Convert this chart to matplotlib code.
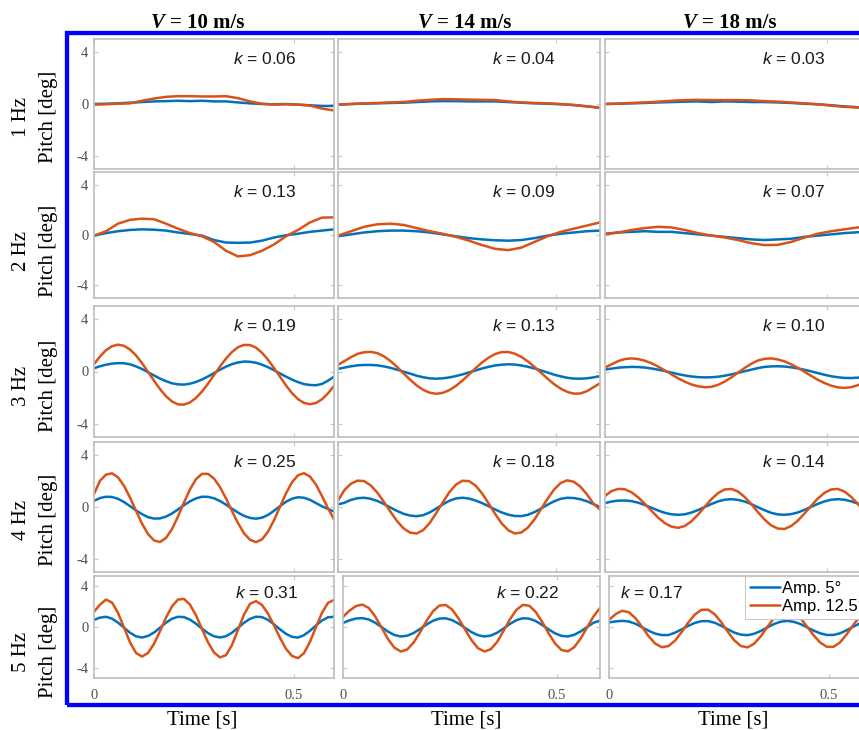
import matplotlib
matplotlib.use('Agg')
import matplotlib.pyplot as plt
from matplotlib.patches import Rectangle

plt.rcParams['axes.unicode_minus'] = False
plt.rcParams['mathtext.fontset'] = 'custom'
plt.rcParams['mathtext.it'] = 'Liberation Sans:italic'
plt.rcParams['mathtext.rm'] = 'Liberation Sans'

# ---------------- data ----------------
speeds = ["10", "14", "18"]
freqs = ["1", "2", "3", "4", "5"]
k_labels = [["0.06", "0.04", "0.03"],
            ["0.13", "0.09", "0.07"],
            ["0.19", "0.13", "0.10"],
            ["0.25", "0.18", "0.14"],
            ["0.31", "0.22", "0.17"]]
legend_labels = ["Amp. 5\u00b0", "Amp. 12.5\u00b0"]

t_slow = [0.00, 0.03, 0.06, 0.09, 0.12, 0.15, 0.18, 0.21, 0.24, 0.27, 0.30,
          0.33, 0.36, 0.39, 0.42, 0.45, 0.48, 0.51, 0.54, 0.57, 0.60]
t_fast = [0.000, 0.015, 0.030, 0.045, 0.060, 0.075, 0.090, 0.105, 0.120, 0.135,
          0.150, 0.165, 0.180, 0.195, 0.210, 0.225, 0.240, 0.255, 0.270, 0.285,
          0.300, 0.315, 0.330, 0.345, 0.360, 0.375, 0.390, 0.405, 0.420, 0.435,
          0.450, 0.465, 0.480, 0.495, 0.510, 0.525, 0.540, 0.555, 0.570, 0.585, 0.600]

# Row 1 (1 Hz)
r1c1_b = [0.00, 0.02, 0.05, 0.10, 0.15, 0.20, 0.22, 0.25, 0.22, 0.25, 0.20, 0.20, 0.12, 0.05, 0.00, -0.02, 0.00, -0.05, -0.10, -0.15, -0.15]
r1c1_o = [-0.05, -0.02, 0.02, 0.05, 0.25, 0.42, 0.55, 0.60, 0.60, 0.58, 0.58, 0.60, 0.45, 0.20, 0.02, -0.05, -0.02, -0.05, -0.12, -0.35, -0.50]
r1c2_b = [-0.05, 0.00, 0.03, 0.05, 0.08, 0.10, 0.15, 0.20, 0.22, 0.22, 0.20, 0.20, 0.20, 0.15, 0.10, 0.05, 0.02, -0.02, -0.08, -0.18, -0.28]
r1c2_o = [-0.05, 0.00, 0.05, 0.08, 0.12, 0.15, 0.25, 0.32, 0.38, 0.36, 0.34, 0.32, 0.30, 0.20, 0.12, 0.08, 0.05, 0.00, -0.08, -0.18, -0.30]
r1c3_b = [0.00, 0.02, 0.05, 0.08, 0.12, 0.15, 0.18, 0.20, 0.15, 0.20, 0.18, 0.15, 0.15, 0.12, 0.08, 0.02, -0.02, -0.10, -0.18, -0.25, -0.30]
r1c3_o = [0.00, 0.03, 0.08, 0.12, 0.18, 0.25, 0.30, 0.32, 0.30, 0.30, 0.30, 0.28, 0.22, 0.18, 0.12, 0.05, -0.02, -0.12, -0.22, -0.27, -0.30]

# Row 2 (2 Hz)
r2c1_b = [-0.05, 0.15, 0.30, 0.40, 0.45, 0.42, 0.35, 0.20, 0.08, -0.05, -0.40, -0.60, -0.62, -0.60, -0.45, -0.20, -0.02, 0.10, 0.25, 0.35, 0.45]
r2c1_o = [-0.05, 0.30, 0.90, 1.20, 1.30, 1.25, 0.90, 0.50, 0.15, -0.10, -0.55, -1.25, -1.70, -1.60, -1.25, -0.75, -0.10, 0.40, 1.00, 1.38, 1.40]
r2c2_b = [-0.10, 0.05, 0.20, 0.30, 0.35, 0.35, 0.30, 0.20, 0.05, -0.10, -0.25, -0.35, -0.42, -0.45, -0.40, -0.25, -0.05, 0.10, 0.20, 0.30, 0.35]
r2c2_o = [-0.05, 0.30, 0.65, 0.85, 0.90, 0.80, 0.55, 0.30, 0.10, -0.15, -0.45, -0.80, -1.10, -1.20, -1.00, -0.55, -0.10, 0.25, 0.50, 0.75, 1.00]
r2c3_b = [0.10, 0.20, 0.25, 0.30, 0.25, 0.25, 0.15, 0.05, -0.05, -0.15, -0.25, -0.35, -0.40, -0.35, -0.30, -0.15, -0.05, 0.05, 0.15, 0.22, 0.25]
r2c3_o = [0.05, 0.20, 0.40, 0.55, 0.65, 0.60, 0.40, 0.15, -0.05, -0.20, -0.40, -0.65, -0.80, -0.78, -0.55, -0.20, 0.10, 0.30, 0.45, 0.60, 0.65]

# Row 3 (3 Hz)
r3c1_b = [0.25, 0.40, 0.52, 0.60, 0.64, 0.63, 0.55, 0.39, 0.19, -0.05, -0.30, -0.54, -0.74, -0.90, -0.98, -1.00, -0.93, -0.80, -0.61, -0.38, -0.12, 0.14, 0.37, 0.56, 0.69, 0.76, 0.74, 0.67, 0.52, 0.33, 0.10, -0.15, -0.39, -0.62, -0.81, -0.96, -1.03, -1.05, -0.95, -0.70, -0.40]
r3c1_o = [0.56, 1.15, 1.63, 1.93, 2.05, 1.96, 1.68, 1.23, 0.64, -0.02, -0.70, -1.34, -1.89, -2.29, -2.51, -2.53, -2.36, -2.02, -1.53, -0.93, -0.27, 0.38, 0.99, 1.49, 1.85, 2.03, 2.02, 1.82, 1.43, 0.90, 0.27, -0.40, -1.06, -1.65, -2.11, -2.40, -2.50, -2.40, -2.12, -1.67, -1.10]
r3c2_b = [0.20, 0.30, 0.40, 0.47, 0.50, 0.50, 0.47, 0.39, 0.28, 0.14, -0.01, -0.16, -0.32, -0.44, -0.52, -0.55, -0.52, -0.45, -0.35, -0.22, -0.07, 0.08, 0.23, 0.36, 0.46, 0.52, 0.55, 0.53, 0.46, 0.36, 0.23, 0.08, -0.08, -0.24, -0.37, -0.48, -0.54, -0.55, -0.52, -0.45, -0.35]
r3c2_o = [0.50, 0.80, 1.10, 1.35, 1.47, 1.50, 1.40, 1.16, 0.80, 0.36, -0.14, -0.62, -1.06, -1.40, -1.62, -1.70, -1.63, -1.42, -1.10, -0.69, -0.23, 0.25, 0.69, 1.06, 1.34, 1.48, 1.49, 1.36, 1.11, 0.77, 0.35, -0.10, -0.55, -0.97, -1.31, -1.56, -1.69, -1.68, -1.50, -1.20, -0.90]
r3c3_b = [0.15, 0.22, 0.29, 0.33, 0.35, 0.34, 0.30, 0.23, 0.14, 0.03, -0.08, -0.20, -0.30, -0.38, -0.43, -0.45, -0.44, -0.40, -0.32, -0.22, -0.10, 0.02, 0.14, 0.26, 0.35, 0.39, 0.40, 0.38, 0.32, 0.24, 0.13, 0.01, -0.12, -0.25, -0.36, -0.44, -0.49, -0.50, -0.47, -0.40, -0.30]
r3c3_o = [0.30, 0.55, 0.80, 0.95, 1.00, 0.95, 0.82, 0.63, 0.37, 0.08, -0.22, -0.52, -0.78, -0.99, -1.13, -1.20, -1.17, -1.02, -0.77, -0.45, -0.09, 0.27, 0.59, 0.84, 0.97, 1.00, 0.92, 0.77, 0.55, 0.28, -0.02, -0.33, -0.63, -0.88, -1.08, -1.21, -1.25, -1.20, -1.05, -0.82, -0.55]

# Row 4 (4 Hz)
r4c1_b = [0.47, 0.69, 0.79, 0.77, 0.63, 0.38, 0.07, -0.26, -0.55, -0.78, -0.89, -0.88, -0.74, -0.50, -0.19, 0.14, 0.44, 0.66, 0.79, 0.78, 0.67, 0.46, 0.18, -0.13, -0.43, -0.68, -0.84, -0.90, -0.82, -0.61, -0.29, 0.07, 0.40, 0.64, 0.75, 0.71, 0.55, 0.30, 0.05, -0.15, -0.35]
r4c1_o = [1.00, 2.02, 2.49, 2.59, 2.28, 1.63, 0.73, -0.29, -1.28, -2.08, -2.57, -2.69, -2.38, -1.70, -0.73, 0.35, 1.36, 2.14, 2.55, 2.55, 2.19, 1.53, 0.66, -0.31, -1.24, -2.02, -2.52, -2.70, -2.49, -1.90, -1.02, 0.02, 1.05, 1.90, 2.44, 2.60, 2.34, 1.72, 0.84, -0.10, -0.95]
r4c2_b = [0.20, 0.33, 0.55, 0.68, 0.71, 0.63, 0.47, 0.23, -0.04, -0.30, -0.52, -0.66, -0.71, -0.63, -0.42, -0.12, 0.20, 0.48, 0.66, 0.71, 0.65, 0.50, 0.30, 0.06, -0.19, -0.42, -0.59, -0.69, -0.70, -0.60, -0.39, -0.12, 0.18, 0.44, 0.63, 0.71, 0.69, 0.60, 0.44, 0.22, 0.00]
r4c2_o = [0.50, 1.32, 1.80, 2.03, 1.99, 1.66, 1.11, 0.40, -0.36, -1.07, -1.64, -1.97, -2.04, -1.78, -1.23, -0.47, 0.36, 1.14, 1.72, 2.02, 1.99, 1.65, 1.04, 0.27, -0.54, -1.27, -1.79, -2.04, -1.96, -1.58, -0.95, -0.16, 0.64, 1.35, 1.85, 2.05, 1.94, 1.57, 0.98, 0.26, -0.20]
r4c3_b = [0.30, 0.42, 0.49, 0.50, 0.45, 0.33, 0.15, -0.06, -0.27, -0.45, -0.56, -0.60, -0.56, -0.43, -0.23, 0.00, 0.23, 0.43, 0.56, 0.60, 0.55, 0.42, 0.22, -0.02, -0.25, -0.45, -0.57, -0.60, -0.55, -0.42, -0.22, 0.01, 0.24, 0.43, 0.56, 0.60, 0.56, 0.44, 0.26, 0.05, -0.15]
r4c3_o = [0.85, 1.23, 1.39, 1.36, 1.13, 0.74, 0.24, -0.30, -0.82, -1.24, -1.51, -1.60, -1.46, -1.10, -0.58, 0.02, 0.60, 1.07, 1.35, 1.39, 1.19, 0.77, 0.22, -0.40, -0.97, -1.42, -1.66, -1.69, -1.46, -1.05, -0.50, 0.09, 0.65, 1.09, 1.35, 1.39, 1.19, 0.79, 0.25, -0.35, -0.93]

# Row 5 (5 Hz)
r5c1_b = [0.70, 0.92, 1.00, 0.82, 0.43, -0.07, -0.56, -0.91, -1.03, -0.88, -0.54, -0.07, 0.42, 0.81, 1.00, 0.97, 0.72, 0.32, -0.16, -0.60, -0.91, -1.03, -0.90, -0.56, -0.08, 0.41, 0.80, 1.01, 0.97, 0.70, 0.26, -0.23, -0.67, -0.96, -1.04, -0.80, -0.37, 0.16, 0.64, 0.95, 1.00]
r5c1_o = [1.50, 2.19, 2.69, 2.40, 1.39, -0.05, -1.50, -2.54, -2.90, -2.55, -1.65, -0.41, 0.92, 2.03, 2.69, 2.75, 2.19, 1.14, -0.19, -1.50, -2.50, -2.98, -2.76, -1.77, -0.28, 1.22, 2.27, 2.54, 2.16, 1.31, 0.16, -1.07, -2.14, -2.84, -3.05, -2.56, -1.45, 0.00, 1.39, 2.37, 2.65]
r5c2_b = [0.40, 0.65, 0.83, 0.87, 0.74, 0.42, -0.01, -0.45, -0.78, -0.93, -0.85, -0.59, -0.19, 0.24, 0.61, 0.83, 0.85, 0.67, 0.33, -0.09, -0.50, -0.80, -0.93, -0.84, -0.56, -0.14, 0.31, 0.67, 0.86, 0.82, 0.58, 0.20, -0.23, -0.62, -0.87, -0.93, -0.76, -0.43, 0.00, 0.42, 0.62]
r5c2_o = [1.00, 1.60, 2.05, 2.20, 1.87, 1.05, -0.06, -1.18, -2.03, -2.40, -2.20, -1.52, -0.51, 0.60, 1.54, 2.10, 2.16, 1.70, 0.83, -0.24, -1.29, -2.07, -2.40, -2.18, -1.45, -0.37, 0.77, 1.69, 2.17, 2.08, 1.47, 0.50, -0.62, -1.61, -2.25, -2.39, -1.97, -1.12, -0.03, 1.05, 1.86]
r5c3_b = [0.45, 0.55, 0.60, 0.54, 0.32, -0.02, -0.37, -0.65, -0.79, -0.79, -0.55, -0.24, 0.11, 0.40, 0.57, 0.58, 0.42, 0.12, -0.23, -0.55, -0.75, -0.80, -0.66, -0.39, -0.04, 0.29, 0.52, 0.60, 0.51, 0.29, -0.02, -0.35, -0.62, -0.78, -0.78, -0.62, -0.32, 0.03, 0.35, 0.55, 0.60]
r5c3_o = [0.70, 1.26, 1.59, 1.45, 0.87, 0.02, -0.90, -1.63, -1.98, -1.87, -1.34, -0.50, 0.43, 1.22, 1.68, 1.70, 1.26, 0.47, -0.47, -1.32, -1.87, -2.00, -1.63, -0.91, 0.01, 0.88, 1.50, 1.70, 1.47, 0.88, 0.05, -0.81, -1.53, -1.94, -1.95, -1.51, -0.73, 0.19, 1.03, 1.57, 1.70]

series = [[(r1c1_b, r1c1_o), (r1c2_b, r1c2_o), (r1c3_b, r1c3_o)],
          [(r2c1_b, r2c1_o), (r2c2_b, r2c2_o), (r2c3_b, r2c3_o)],
          [(r3c1_b, r3c1_o), (r3c2_b, r3c2_o), (r3c3_b, r3c3_o)],
          [(r4c1_b, r4c1_o), (r4c2_b, r4c2_o), (r4c3_b, r4c3_o)],
          [(r5c1_b, r5c1_o), (r5c2_b, r5c2_o), (r5c3_b, r5c3_o)]]
row_time = [t_slow, t_slow, t_fast, t_fast, t_fast]

# ---------------- layout (pixels) ----------------
W, H = 859, 730
BLUE = '#0072BD'
ORANGE = '#D95319'
SERIF = 'Liberation Serif'
SANS = 'Liberation Sans'

row_y = [(39, 169), (172, 298), (306, 437), (442, 572), (576, 678)]
col_x = [(94, 334), (338, 600), (605, 871)]
col_x_last = [(94, 334), (343, 600), (609, 873)]

fig = plt.figure(figsize=(W / 100, H / 100), dpi=100)
fig.patch.set_facecolor('white')


def fbox(x0, y0, x1, y1):
    return [x0 / W, 1 - y1 / H, (x1 - x0) / W, (y1 - y0) / H]


axes = []
for r in range(5):
    row_axes = []
    cols = col_x_last if r == 4 else col_x
    for c in range(3):
        x0, x1 = cols[c]
        y0, y1 = row_y[r]
        ax = fig.add_axes(fbox(x0, y0, x1, y1))
        b, o = series[r][c]
        t = row_time[r]
        ax.plot(t, b, color=BLUE, lw=1.8, label=legend_labels[0], solid_capstyle='round')
        ax.plot(t, o, color=ORANGE, lw=1.8, label=legend_labels[1], solid_capstyle='round')
        ax.set_xlim(0, 0.6)
        ax.set_ylim(-5, 5)
        ax.set_yticks([-4, 0, 4])
        ax.set_xticks([0, 0.5])
        ax.tick_params(direction='in', length=3, width=0.8, color='#c8c8c8',
                       top=True, right=True, labelsize=10.5, labelcolor='#505050')
        ax.tick_params(axis='y', pad=4)
        ax.tick_params(axis='x', pad=8)
        if c == 0:
            ax.set_yticklabels(['-4', '0', '4'], family=SERIF)
        else:
            ax.tick_params(labelleft=False)
        if r == 4:
            ax.set_xticklabels(['0', '0.5'], family=SERIF)
        else:
            ax.tick_params(labelbottom=False)
        for s in ax.spines.values():
            s.set_color('#bdbdbd')
            s.set_linewidth(1.2)
        if r == 4 and c == 2:
            kx, ky = 0.16, 0.835
        elif r == 4:
            kx, ky = 0.72, 0.835
        else:
            kx, ky = 0.71, 0.845
        ax.text(kx, ky, '$k$ = ' + k_labels[r][c], transform=ax.transAxes,
                ha='center', va='center', fontsize=12.5, family=SANS, color='#1a1a1a')
        row_axes.append(ax)
    axes.append(row_axes)

# legend
leg = axes[4][2].legend(loc='upper left', bbox_to_anchor=(745 / W, 1 - 576 / H),
                        bbox_transform=fig.transFigure, borderaxespad=0,
                        frameon=True, fancybox=False, edgecolor='#c8c8c8', framealpha=1,
                        prop={'family': SANS, 'size': 12}, handlelength=1.8,
                        handletextpad=0.1, borderpad=0.3, labelspacing=0.2)
leg.get_frame().set_linewidth(0.8)

# column titles
v_right = [165, 432, 697]
for c in range(3):
    fig.text(v_right[c] / W, 1 - 28 / H, 'V', ha='right', va='baseline',
             family=SERIF, style='italic', weight='bold', fontsize=15)
    fig.text((v_right[c] + 5) / W, 1 - 28 / H, '= ' + speeds[c] + ' m/s', ha='left',
             va='baseline', family=SERIF, weight='bold', fontsize=15)

# row labels
label_y = [117, 251, 386, 520, 652]
for r in range(5):
    fig.text(22 / W, 1 - label_y[r] / H, freqs[r] + ' Hz', rotation=90, ha='center',
             va='center', family=SERIF, fontsize=15)
    fig.text(48 / W, 1 - label_y[r] / H, 'Pitch [deg]', rotation=90, ha='center',
             va='center', family=SERIF, fontsize=15)

# x labels
time_x = [202, 466, 733]
for c in range(3):
    fig.text(time_x[c] / W, 1 - 720 / H, 'Time [s]', ha='center', va='center',
             family=SERIF, fontsize=15)

# blue frame
rect = Rectangle((67 / W, 1 - 704.5 / H), (890 - 67) / W, (704.5 - 33) / H,
                 transform=fig.transFigure, fill=False, edgecolor='#0000FF', linewidth=3.1)
fig.add_artist(rect)

fig.savefig('out.png', dpi=100, facecolor='white')
